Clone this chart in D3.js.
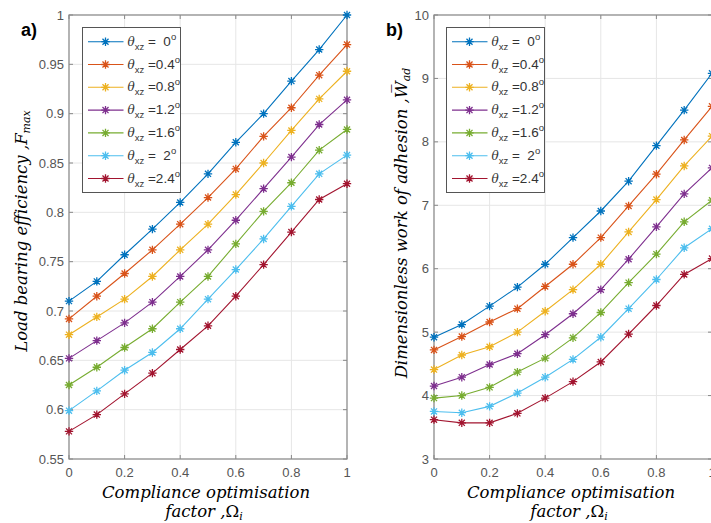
<!DOCTYPE html>
<html>
<head>
<meta charset="utf-8">
<script src="https://cdn.jsdelivr.net/npm/d3@7"></script>
<style>
  body { margin: 0; background: #fff; }
  text { white-space: pre; }
</style>
</head>
<body>
<div class="chart"></div>
<script>
const xs = [0, 0.1, 0.2, 0.3, 0.4, 0.5, 0.6, 0.7, 0.8, 0.9, 1];
const legendValues = ["=  0", "=0.4", "=0.8", "=1.2", "=1.6", "=  2", "=2.4"];
const colors = ["#0072BD", "#D95319", "#EDB120", "#7E2F8E", "#77AC30", "#4DBEEE", "#A2142F"];

// a) load bearing efficiency, one row per theta
const loadEfficiency = [
  [0.710, 0.730, 0.757, 0.783, 0.810, 0.839, 0.871, 0.900, 0.933, 0.965, 1.000],
  [0.692, 0.715, 0.738, 0.762, 0.788, 0.815, 0.844, 0.877, 0.906, 0.939, 0.970],
  [0.676, 0.694, 0.712, 0.735, 0.762, 0.788, 0.818, 0.850, 0.883, 0.915, 0.943],
  [0.652, 0.670, 0.688, 0.709, 0.735, 0.762, 0.792, 0.824, 0.856, 0.889, 0.914],
  [0.625, 0.643, 0.663, 0.682, 0.709, 0.735, 0.768, 0.801, 0.830, 0.863, 0.884],
  [0.599, 0.619, 0.640, 0.658, 0.682, 0.712, 0.742, 0.773, 0.806, 0.839, 0.858],
  [0.578, 0.595, 0.616, 0.637, 0.661, 0.685, 0.715, 0.747, 0.780, 0.813, 0.829]
];

// b) dimensionless work of adhesion
const workAdhesion = [
  [4.92, 5.12, 5.41, 5.71, 6.07, 6.49, 6.91, 7.38, 7.94, 8.50, 9.08],
  [4.72, 4.93, 5.16, 5.37, 5.72, 6.07, 6.49, 6.99, 7.49, 8.03, 8.56],
  [4.41, 4.64, 4.77, 5.00, 5.33, 5.67, 6.07, 6.58, 7.09, 7.62, 8.09],
  [4.15, 4.29, 4.49, 4.66, 4.96, 5.29, 5.67, 6.15, 6.66, 7.18, 7.59],
  [3.96, 4.00, 4.13, 4.37, 4.59, 4.91, 5.31, 5.78, 6.23, 6.74, 7.08],
  [3.75, 3.73, 3.83, 4.04, 4.29, 4.57, 4.92, 5.37, 5.83, 6.33, 6.63],
  [3.62, 3.57, 3.57, 3.72, 3.96, 4.22, 4.53, 4.97, 5.42, 5.91, 6.16]
];

const xTicks = [0, 0.2, 0.4, 0.6, 0.8, 1];
const yTicksA = [0.55, 0.6, 0.65, 0.7, 0.75, 0.8, 0.85, 0.9, 0.95, 1];
const yTicksB = [3, 4, 5, 6, 7, 8, 9, 10];

const width = 711;
const height = 523;

const svg = d3
  .select(".chart")
  .append("svg")
  .attr("width", width)
  .attr("height", height)
  .style("font-family", "'Liberation Sans', Arial, sans-serif");

const serif = "'DejaVu Serif', serif";

function asterisk(g, x, y, color) {
  const r = 4.2;
  const d = r * 0.72;
  g.append("path")
    .attr("d", `M${x - r},${y}H${x + r}M${x},${y - r}V${y + r}M${x - d},${y - d}L${x + d},${y + d}M${x - d},${y + d}L${x + d},${y - d}`)
    .attr("stroke", color)
    .attr("stroke-width", 1.3)
    .attr("fill", "none");
}

function panel(cfg) {
  const x = d3.scaleLinear().domain([0, 1]).range([cfg.left, cfg.right]);
  const y = d3.scaleLinear().domain(cfg.yDomain).range([cfg.bottom, cfg.top]);
  const g = svg.append("g");

  // grid
  g.selectAll("line.gx")
    .data(xTicks)
    .enter()
    .append("line")
    .attr("x1", (d) => x(d))
    .attr("x2", (d) => x(d))
    .attr("y1", cfg.top)
    .attr("y2", cfg.bottom)
    .attr("stroke", "#e6e6e6");
  g.selectAll("line.gy")
    .data(cfg.yTicks)
    .enter()
    .append("line")
    .attr("x1", cfg.left)
    .attr("x2", cfg.right)
    .attr("y1", (d) => y(d))
    .attr("y2", (d) => y(d))
    .attr("stroke", "#e6e6e6");

  // inner ticks
  g.selectAll("path.tx")
    .data(xTicks)
    .enter()
    .append("path")
    .attr("d", (d) => `M${x(d)},${cfg.bottom}v-4M${x(d)},${cfg.top}v4`)
    .attr("stroke", "#888");
  g.selectAll("path.ty")
    .data(cfg.yTicks)
    .enter()
    .append("path")
    .attr("d", (d) => `M${cfg.left},${y(d)}h4M${cfg.right},${y(d)}h-4`)
    .attr("stroke", "#888");

  g.append("rect")
    .attr("x", cfg.left)
    .attr("y", cfg.top)
    .attr("width", cfg.right - cfg.left)
    .attr("height", cfg.bottom - cfg.top)
    .attr("fill", "none")
    .attr("stroke", "#8a8a8a")
    .attr("stroke-width", 1.2);

  // tick labels
  g.selectAll("text.tx")
    .data(xTicks)
    .enter()
    .append("text")
    .attr("x", (d) => x(d))
    .attr("y", cfg.bottom + 18)
    .attr("text-anchor", "middle")
    .attr("font-size", 13)
    .attr("fill", "#555")
    .text((d) => d3.format("")(d));
  g.selectAll("text.ty")
    .data(cfg.yTicks)
    .enter()
    .append("text")
    .attr("x", cfg.left - 5)
    .attr("y", (d) => y(d))
    .attr("dy", 4.5)
    .attr("text-anchor", "end")
    .attr("font-size", 13)
    .attr("fill", "#555")
    .text((d) => d3.format("")(d));

  // series
  const line = d3.line().x((d, i) => x(xs[i])).y((d) => y(d));
  cfg.data.forEach((row, k) => {
    g.append("path")
      .attr("d", line(row))
      .attr("fill", "none")
      .attr("stroke", colors[k])
      .attr("stroke-width", 1.1);
    row.forEach((v, i) => asterisk(g, x(xs[i]), y(v), colors[k]));
  });

  // legend
  const lx = cfg.legendX;
  g.append("rect")
    .attr("x", lx)
    .attr("y", 27.5)
    .attr("width", 98)
    .attr("height", 165)
    .attr("fill", "#fff")
    .attr("stroke", "#555")
    .attr("stroke-width", 1);
  legendValues.forEach((lab, k) => {
    const ly = 41.7 + k * 22.8;
    g.append("line")
      .attr("x1", lx + 5.5)
      .attr("x2", lx + 41)
      .attr("y1", ly)
      .attr("y2", ly)
      .attr("stroke", colors[k])
      .attr("stroke-width", 1.1);
    asterisk(g, lx + 23, ly, colors[k]);
    const t = g.append("text")
      .attr("x", lx + 45)
      .attr("y", ly + 4)
      .attr("font-size", 13.5)
      .attr("fill", "#333");
    t.append("tspan").attr("font-style", "italic").attr("font-family", serif).attr("font-size", 12).text("θ");
    t.append("tspan").attr("font-size", 9.5).attr("dy", 4).text("xz");
    t.append("tspan").attr("dy", -4).text(" " + lab);
    t.append("tspan").attr("font-size", 9.5).attr("dy", -6).text("o");
  });

  // panel letter
  svg.append("text")
    .attr("x", cfg.letterX)
    .attr("y", 36)
    .attr("font-size", 18)
    .attr("font-weight", "bold")
    .text(cfg.letter);

  // x label
  svg.append("text")
    .attr("x", (cfg.left + cfg.right) / 2 - 2)
    .attr("y", 498)
    .attr("text-anchor", "middle")
    .attr("font-family", serif)
    .attr("font-style", "italic")
    .attr("font-size", 16.5)
    .text("Compliance optimisation");
  const xl = svg.append("text")
    .attr("x", (cfg.left + cfg.right) / 2 - 4)
    .attr("y", 517)
    .attr("text-anchor", "middle")
    .attr("font-family", serif)
    .attr("font-style", "italic")
    .attr("font-size", 16.5);
  xl.append("tspan").text("factor ,");
  xl.append("tspan").attr("font-style", "normal").text("Ω");
  xl.append("tspan").attr("font-size", 11).attr("dy", 3).text("i");

  // y label
  const yl = svg.append("text")
    .attr("transform", `translate(${cfg.yLabelX},${cfg.yLabelY}) rotate(-90)`)
    .attr("text-anchor", "middle")
    .attr("font-family", serif)
    .attr("font-style", "italic")
    .attr("font-size", 16.5);
  yl.append("tspan").text(cfg.yLabel);
  yl.append("tspan").text(cfg.yVar);
  yl.append("tspan").attr("font-size", 11).attr("dy", 3).text(cfg.ySub);
}

panel({
  left: 69, right: 347, top: 15, bottom: 459,
  yDomain: [0.55, 1], yTicks: yTicksA, data: loadEfficiency,
  legendX: 82.5, letter: "a)", letterX: 21,
  yLabel: "Load bearing efficiency ,", yVar: "F", ySub: "max",
  yLabelX: 27, yLabelY: 231
});

panel({
  left: 434, right: 712, top: 15, bottom: 459,
  yDomain: [3, 10], yTicks: yTicksB, data: workAdhesion,
  legendX: 446.5, letter: "b)", letterX: 386,
  yLabel: "Dimensionless work of adhesion ,", yVar: "W\u0305", ySub: "ad",
  yLabelX: 407, yLabelY: 223
});
</script>
</body>
</html>
